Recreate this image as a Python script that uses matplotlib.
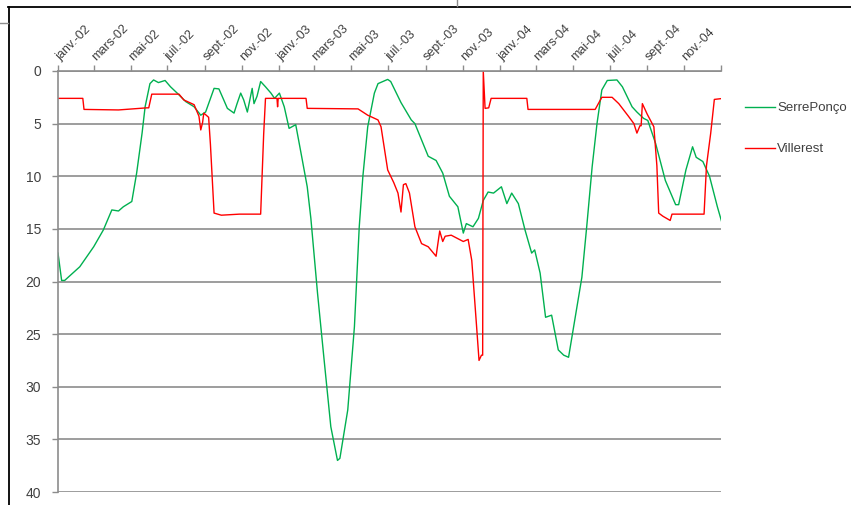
import matplotlib
matplotlib.use("Agg")
import matplotlib.pyplot as plt
from matplotlib.lines import Line2D
import numpy as np
import pandas as pd

# jours comptés depuis le 1er janvier 2002
debut = pd.Timestamp("2002-01-01")

serre_jours = [0, 6, 11, 36, 59, 75, 89, 100, 108, 122, 130, 139, 144, 152, 158, 166,
               177, 186, 197, 211, 225, 236, 244, 258, 266, 274, 280, 291, 296, 302, 307,
               313, 321, 324, 329, 335, 343, 352, 358, 366, 374, 382, 393, 404, 412, 418,
               429, 440, 451, 462, 466, 479, 490, 498, 504, 512, 523, 529, 545, 550, 567,
               584, 590, 612, 625, 636, 647, 661, 670, 675, 686, 695, 703, 711, 720, 733,
               742, 750, 761, 772, 783, 788, 797, 806, 816, 827, 836, 844, 855, 866, 874,
               883, 891, 899, 908, 924, 933, 949, 957, 968, 975, 988, 1004, 1021, 1026,
               1038, 1049, 1055, 1066, 1077, 1090, 1098]
serre_cote = [17.3, 19.9, 19.9, 18.6, 16.7, 15.1, 13.2, 13.3, 12.9, 12.4, 9.7, 5.9, 3.4,
              1.2, 0.85, 1.1, 0.9, 1.5, 2.1, 2.9, 3.4, 4.2, 3.9, 1.65, 1.7, 2.75, 3.55,
              4.0, 3.1, 2.1, 2.75, 3.9, 1.65, 3.1, 2.4, 1.0, 1.5, 2.1, 2.6, 2.1, 3.4, 5.45,
              5.1, 8.5, 11.0, 14.0, 21.1, 27.5, 33.8, 37.0, 36.8, 32.2, 24.3, 14.8, 10.0,
              5.3, 2.1, 1.2, 0.8, 1.0, 3.0, 4.65, 5.0, 8.1, 8.5, 9.7, 11.9, 12.9, 15.4,
              14.5, 14.8, 14.0, 12.3, 11.5, 11.6, 11.0, 12.6, 11.6, 12.6, 15.1, 17.3, 17.0,
              19.2, 23.4, 23.2, 26.5, 27.0, 27.2, 23.4, 19.6, 14.8, 9.1, 5.0, 1.8, 0.9,
              0.85, 1.5, 3.4, 3.9, 4.5, 4.7, 6.9, 10.4, 12.7, 12.7, 9.4, 7.2, 8.2, 8.6,
              10.0, 12.9, 14.5]

ville_jours = [0, 41, 43, 100, 147, 150, 155, 200, 208, 225, 233, 236, 239, 241, 249, 252,
               258, 270, 300, 335, 340, 343, 362, 363, 364, 410, 412, 496, 512, 529, 534,
               545, 555, 562, 567, 571, 575, 581, 590, 601, 612, 625, 631, 636, 640, 650,
               670, 678, 684, 692, 696, 700, 702, 703, 706, 712, 716, 775, 777, 888, 899,
               916, 927, 943, 952, 957, 962, 964, 966, 974, 985, 990, 993, 1000, 1012,
               1015, 1068, 1072, 1079, 1085, 1100]
ville_cote = [2.6, 2.6, 3.65, 3.7, 3.5, 3.5, 2.2, 2.2, 2.75, 3.2, 4.3, 5.6, 4.9, 4.0, 4.4,
              7.0, 13.5, 13.7, 13.6, 13.6, 6.0, 2.6, 2.6, 3.4, 2.6, 2.6, 3.55, 3.6, 4.2,
              4.65, 5.3, 9.4, 10.6, 11.6, 13.4, 10.8, 10.7, 11.6, 14.8, 16.4, 16.7, 17.6,
              15.2, 16.2, 15.7, 15.6, 16.2, 16.0, 18.0, 24.3, 27.5, 27.0, 27.0, 0.0, 3.55,
              3.5, 2.6, 2.6, 3.65, 3.65, 2.5, 2.5, 3.1, 4.3, 5.0, 5.9, 5.2, 5.2, 3.1, 4.1,
              5.3, 9.0, 13.5, 13.8, 14.2, 13.6, 13.6, 9.0, 5.9, 2.7, 2.6]

mois = pd.date_range("2002-01-01", "2005-01-01", freq="2MS")
etiquettes = ["janv.-02", "mars-02", "mai-02", "juil.-02", "sept.-02", "nov.-02",
              "janv.-03", "mars-03", "mai-03", "juil.-03", "sept.-03", "nov.-03",
              "janv.-04", "mars-04", "mai-04", "juil.-04", "sept.-04", "nov.-04", ""]

serre_dates = debut + pd.to_timedelta(serre_jours, unit="D")
ville_dates = debut + pd.to_timedelta(ville_jours, unit="D")

plt.rcParams['font.family'] = ['Liberation Sans', 'DejaVu Sans']
gris = '#8c8c8c'
texte = '#404040'

fig = plt.figure(figsize=(8.51, 5.05), dpi=100)
ax = fig.add_axes([58 / 851, 13 / 505, (721 - 58) / 851, (492 - 71) / 505])

ax.plot(serre_dates, serre_cote, color='#00b050', lw=1.0, label='SerrePonço')
ax.plot(ville_dates, ville_cote, color='#ff0000', lw=1.0, label='Villerest')

ax.set_ylim(40, 0)
ax.set_xlim(mois[0], mois[-1])
ax.set_yticks(np.arange(0, 41, 5))
ax.yaxis.grid(True, color=gris, lw=1.2)
ax.set_axisbelow(True)

ax.xaxis.tick_top()
ax.set_xticks(mois)
ax.set_xticklabels(etiquettes, rotation=45, ha='left', va='center',
                   rotation_mode='anchor', fontsize=9, color=texte)
ax.tick_params(axis='x', length=4, width=1, color=gris, pad=5)
ax.tick_params(axis='y', length=4, width=1, color=gris, pad=8, labelsize=10,
               labelcolor=texte)

for cote in ['right', 'bottom']:
    ax.spines[cote].set_visible(False)
for cote in ['left', 'top']:
    ax.spines[cote].set_color(gris)
    ax.spines[cote].set_linewidth(1.2)

ax.legend(loc='upper left', bbox_to_anchor=(745 / 851, (505 - 102) / 505),
          bbox_transform=fig.transFigure, frameon=False, fontsize=9.5,
          handlelength=2.3, handletextpad=0.15, labelspacing=2.2,
          borderpad=0, borderaxespad=0, labelcolor=texte)

# cadre de la zone graphique et traits voisins
fig.add_artist(Line2D([8.5 / 851, 8.5 / 851], [0, 1 - 6.5 / 505], color='black', lw=1.3))
fig.add_artist(Line2D([8 / 851, 1], [1 - 6.5 / 505, 1 - 6.5 / 505], color='black', lw=1.3))
fig.add_artist(Line2D([0, 8 / 851], [1 - 22.5 / 505, 1 - 22.5 / 505], color=gris, lw=1))
fig.add_artist(Line2D([457 / 851, 457 / 851], [1 - 6 / 505, 1], color=gris, lw=1))

fig.savefig('out.png', dpi=100)
